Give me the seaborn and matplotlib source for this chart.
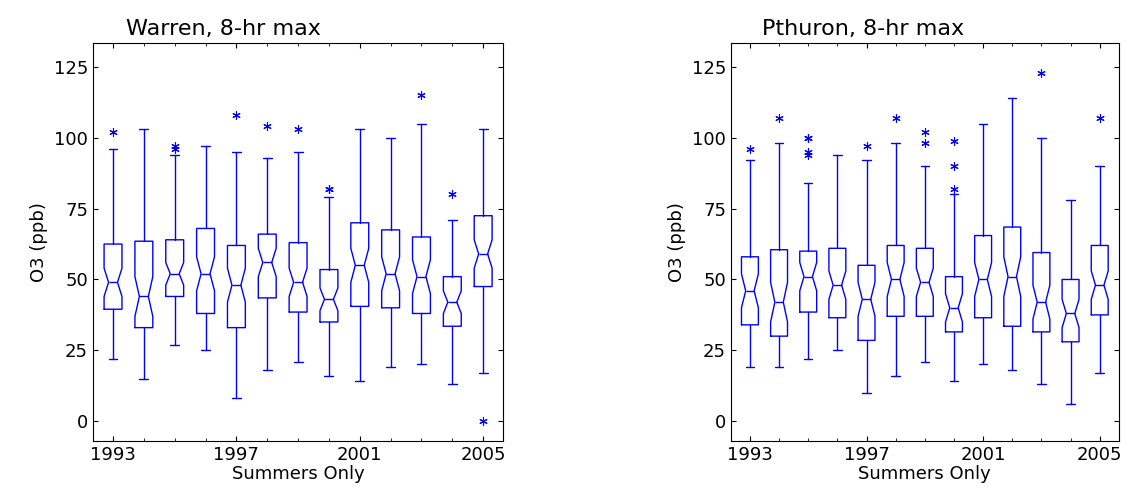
import matplotlib
matplotlib.use("Agg")
import matplotlib.pyplot as plt
import seaborn as sns

years = list(range(1993, 2006))
xticks = [1993, 1997, 2001, 2005]

# Warren stats
w_lo = [22, 15, 27, 25, 8, 18, 21, 16, 14, 19, 20, 13, 17]
w_q1 = [39.5, 33, 44, 38, 33, 43.5, 38.5, 35, 40.5, 40, 38, 33.5, 47.5]
w_med = [49, 44, 52, 52, 48, 56, 49, 43, 55, 52, 51, 42, 59]
w_q3 = [62.5, 63.5, 64, 68, 62, 66, 63, 53.5, 70, 67.5, 65, 51, 72.5]
w_hi = [96, 103, 94, 97, 95, 93, 95, 79, 103, 100, 105, 71, 103]
w_fl = [[102], [], [96, 97], [], [108], [104], [103], [82, 82], [], [], [115], [80], [0]]
w_nt = [5, 7, 4, 6, 6, 5, 5, 4, 6, 6, 6, 4, 5]

# Pthuron stats
p_lo = [19, 19, 22, 25, 10, 16, 21, 14, 20, 18, 13, 6, 17]
p_q1 = [34, 30, 38.5, 36.5, 28.5, 37, 37, 31.5, 36.5, 33.5, 31.5, 28, 37.5]
p_med = [46, 42, 51, 48, 43, 50, 49, 40, 50, 51, 42, 38, 48]
p_q3 = [58, 60.5, 60, 61, 55, 62, 61, 51, 65.5, 68.5, 59.5, 50, 62]
p_hi = [92, 98, 84, 94, 92, 98, 90, 80, 105, 114, 100, 78, 90]
p_fl = [[96], [107], [94, 95, 100, 100], [], [97], [107], [98, 102], [82, 90, 99], [], [], [123], [], [107]]
p_nt = [6, 7, 5, 5, 6, 6, 5, 5, 6, 7, 6, 5, 5]

sns.set_style("ticks")
plt.rcParams['font.family'] = ['DejaVu Sans']
plt.rcParams['text.color'] = 'black'
plt.rcParams['axes.labelcolor'] = 'black'
plt.rcParams['xtick.color'] = 'black'
plt.rcParams['ytick.color'] = 'black'

fig = plt.figure(figsize=(11.27, 5.04), dpi=100)
axes = [fig.add_axes([0.0825, 0.125, 0.364, 0.79]),
        fig.add_axes([0.6486, 0.125, 0.344, 0.79])]
titles = ["Warren, 8-hr max", "Pthuron, 8-hr max"]
data = [(w_lo, w_q1, w_med, w_q3, w_hi, w_fl, w_nt),
        (p_lo, p_q1, p_med, p_q3, p_hi, p_fl, p_nt)]
blue = "#0000ff"
for ax, t, (lo, q1, med, q3, hi, fl, nt) in zip(axes, titles, data):
    stats = []
    for i in range(len(years)):
        stats.append(dict(whislo=lo[i], q1=q1[i], med=med[i], q3=q3[i], whishi=hi[i],
                          fliers=fl[i], cilo=med[i] - nt[i], cihi=med[i] + nt[i]))
    ax.bxp(stats, positions=years, widths=0.58, shownotches=True,
           boxprops=dict(color=blue, lw=1), whiskerprops=dict(color=blue, lw=1),
           capprops=dict(color=blue, lw=1), medianprops=dict(color=blue, lw=1),
           flierprops=dict(marker=(6, 2, 0), markeredgecolor=blue, markersize=6, lw=0, markeredgewidth=0.8),
           manage_ticks=False)
    ax.set_xlim(1992.35, 2005.65)
    ax.set_ylim(-7, 133.5)
    ax.set_xticks(xticks)
    ax.set_xticks(years, minor=True)
    ax.set_yticks([0, 25, 50, 75, 100, 125])
    ax.tick_params(direction="in", top=True, right=True, labelsize=13, which="both")
    ax.tick_params(which="minor", length=2)
    for s in ax.spines.values():
        s.set_visible(True); s.set_color("black"); s.set_linewidth(0.8)
    ax.set_xlabel("Summers Only", fontsize=13, labelpad=1)
    ax.set_ylabel("O3 (ppb)", fontsize=13)
    ax.set_title(t, fontsize=16, loc="left", x=0.08)

fig.savefig("out.png", dpi=100)
